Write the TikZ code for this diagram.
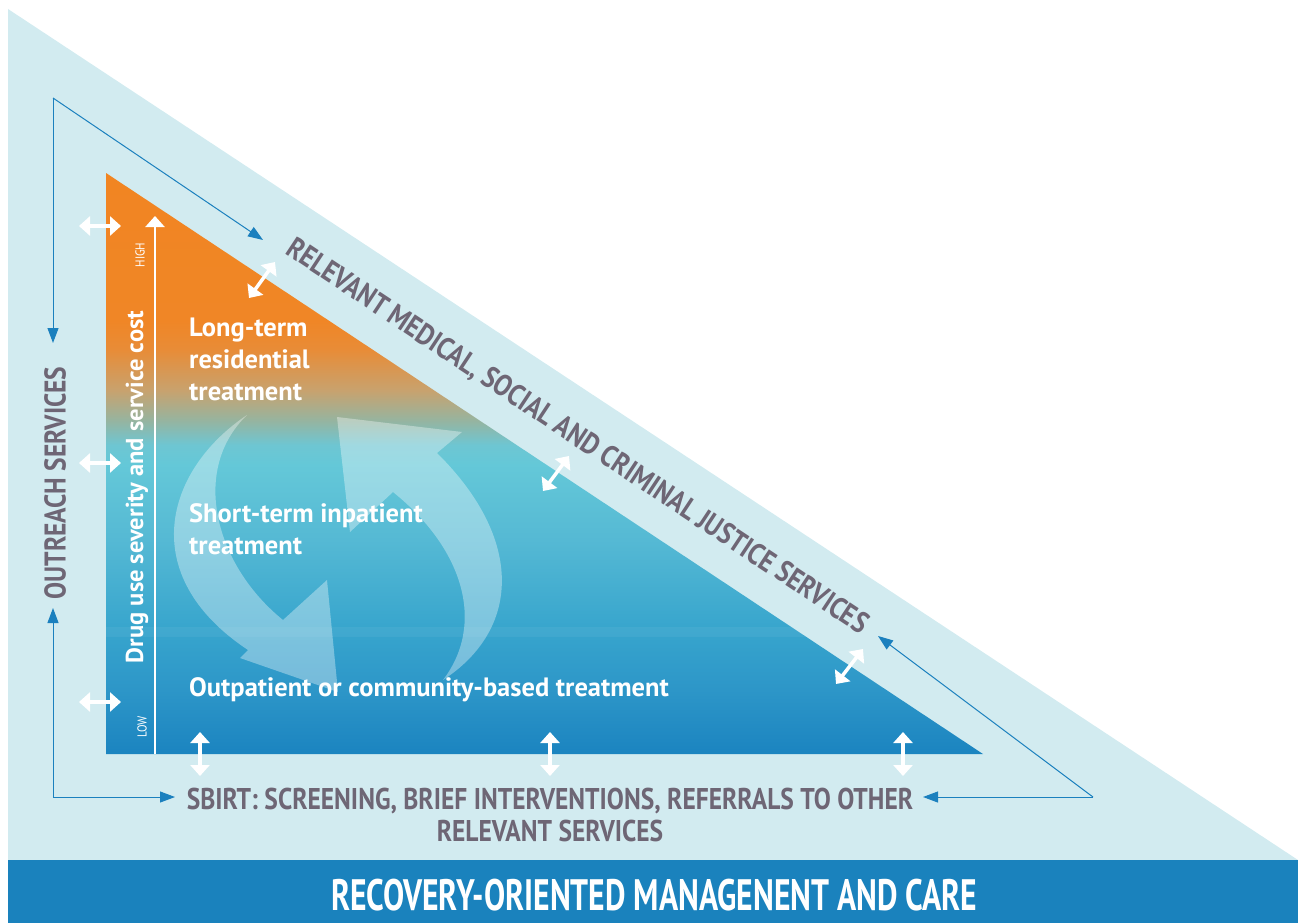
\documentclass[tikz,border=0pt]{standalone}
\usepackage{fontspec}
\setmainfont{PT Sans}[FakeStretch=0.85]
\newfontfamily\plainfont{PT Sans}
\newfontfamily\bandfont{PT Sans}[FakeStretch=0.72]
\usetikzlibrary{arrows.meta}
\definecolor{paleblue}{RGB}{210,235,240}
\definecolor{bandblue}{RGB}{26,130,189}
\definecolor{linkblue}{RGB}{27,128,190}
\definecolor{labelgray}{RGB}{110,102,117}
% bottom (blue) to top (orange) of the inner triangle
\pgfdeclareverticalshading{severity}{100bp}{rgb(0bp)=(.106,.518,.753); rgb(25bp)=(.106,.518,.753);
  rgb(30.5bp)=(.176,.588,.784); rgb(35.7bp)=(.216,.647,.804); rgb(43.4bp)=(.333,.725,.831);
  rgb(49.9bp)=(.392,.784,.847); rgb(51.6bp)=(.431,.776,.824); rgb(53.7bp)=(.588,.706,.627);
  rgb(56.3bp)=(.784,.635,.431); rgb(59.8bp)=(.910,.549,.216); rgb(62.3bp)=(.941,.525,.149);
  rgb(75bp)=(.945,.522,.133); rgb(100bp)=(.945,.522,.133)}
\begin{document}
\begin{tikzpicture}[x=1pt,y=-1pt,
    >={Triangle[length=15pt,width=11pt]},
    link/.style={draw=linkblue, line width=1pt, ->},
    swap/.style={white, line width=3.5pt, {Triangle[length=11pt,width=19pt]}-{Triangle[length=11pt,width=19pt]}},
    grayhead/.style={text=labelgray, inner sep=0pt, font=\bfseries\fontsize{30}{32}\selectfont},
    stage/.style={text=white, inner sep=0pt, anchor=north west, align=left, font=\plainfont\bfseries\fontsize{26.5}{32}\selectfont}]
  \useasboundingbox (0,0) rectangle (1298,923);
  % background bands
  \fill[paleblue] (8,9) -- (1298,860) -- (8,860) -- cycle;
  \fill[bandblue] (8,860) rectangle (1298,923);
  % treatment triangle
  \coordinate (apex) at (106,173);
  \coordinate (base left) at (106,754);
  \coordinate (base right) at (983,754);
  \shade[shading=severity] (apex) -- (base right) -- (base left) -- cycle;
  \begin{scope}
    \clip (apex) -- (base right) -- (base left) -- cycle;
    \fill[white, opacity=.05] (106,627) rectangle (983,637);
  \end{scope}
  % cycle arrows
  \fill[white, opacity=.35] (247,415) .. controls (165,470) and (135,575) .. (248,650) -- (240,658)
    -- (338,692) -- (327,580) -- (283,620) .. controls (215,565) and (190,470) .. (247,415) -- cycle;
  \fill[white, opacity=.35] (443,680) .. controls (520,630) and (525,540) .. (437,453) -- (462,432)
    -- (337,417) -- (350,532) -- (393,492) .. controls (465,550) and (485,625) .. (443,680) -- cycle;
  % severity axis
  \coordinate (axis low) at (155,754);
  \coordinate (axis high) at (155,216);
  \draw[white, line width=2.5pt, -{Triangle[length=11pt,width=19pt]}] (axis low) -- (axis high);
  \node[rotate=90, text=white, font=\plainfont\bfseries\fontsize{24.5}{28}\selectfont] (axis title) at (137,487) {Drug use severity and service cost};
  \node[rotate=90, text=white, font=\fontsize{13}{14}\selectfont] (high) at (140,255) {HIGH};
  \node[rotate=90, text=white, font=\fontsize{13}{14}\selectfont] (low) at (142,727) {LOW};
  % treatment levels
  \node[stage] (long term) at (189,318) {Long-term\\residential\\treatment};
  \node[stage] (short term) at (189,503) {Short-term inpatient\\treatment};
  \node[stage] (outpatient) at (189,677) {Outpatient or community-based treatment};
  % surrounding services
  \node[grayhead, rotate=90] (outreach) at (55,483) {OUTREACH SERVICES};
  \node[grayhead, rotate=-33.5] (relevant) at (577,437) {RELEVANT MEDICAL, SOCIAL AND CRIMINAL JUSTICE SERVICES};
  \node[grayhead, align=center] (sbirt) at (550,815) {SBIRT: SCREENING, BRIEF INTERVENTIONS, REFERRALS TO OTHER\\RELEVANT SERVICES};
  \node[text=white, font=\bandfont\bfseries\fontsize{44}{46}\selectfont] (recovery) at (654,895) {RECOVERY-ORIENTED MANAGENENT AND CARE};
  % referral paths
  \coordinate (corner top) at (53,98);
  \coordinate (corner low) at (53,797);
  \coordinate (corner right) at (1093,797);
  \coordinate (outreach top) at (53,343);
  \coordinate (outreach low) at (53,608);
  \coordinate (relevant in) at (263,240);
  \coordinate (relevant out) at (878,636);
  \coordinate (sbirt in) at (175,797);
  \coordinate (sbirt out) at (923,797);
  \draw[link] (corner top) -- (outreach top);
  \draw[link] (corner top) -- (relevant in);
  \draw[link] (corner low) -- (outreach low);
  \draw[link] (corner low) -- (sbirt in);
  \draw[link] (corner right) -- (sbirt out);
  \draw[link] (corner right) -- (relevant out);
  % exchanges between levels and services
  \foreach \y in {226,463,702}
    \draw[swap] (79,\y) -- (121,\y);
  \foreach \x in {200,550,903}
    \draw[swap] (\x,732) -- (\x,776);
  \draw[swap] (249,298) -- (275,262);
  \draw[swap] (543,491) -- (569,456);
  \draw[swap] (836,684) -- (863,649);
\end{tikzpicture}
\end{document}
